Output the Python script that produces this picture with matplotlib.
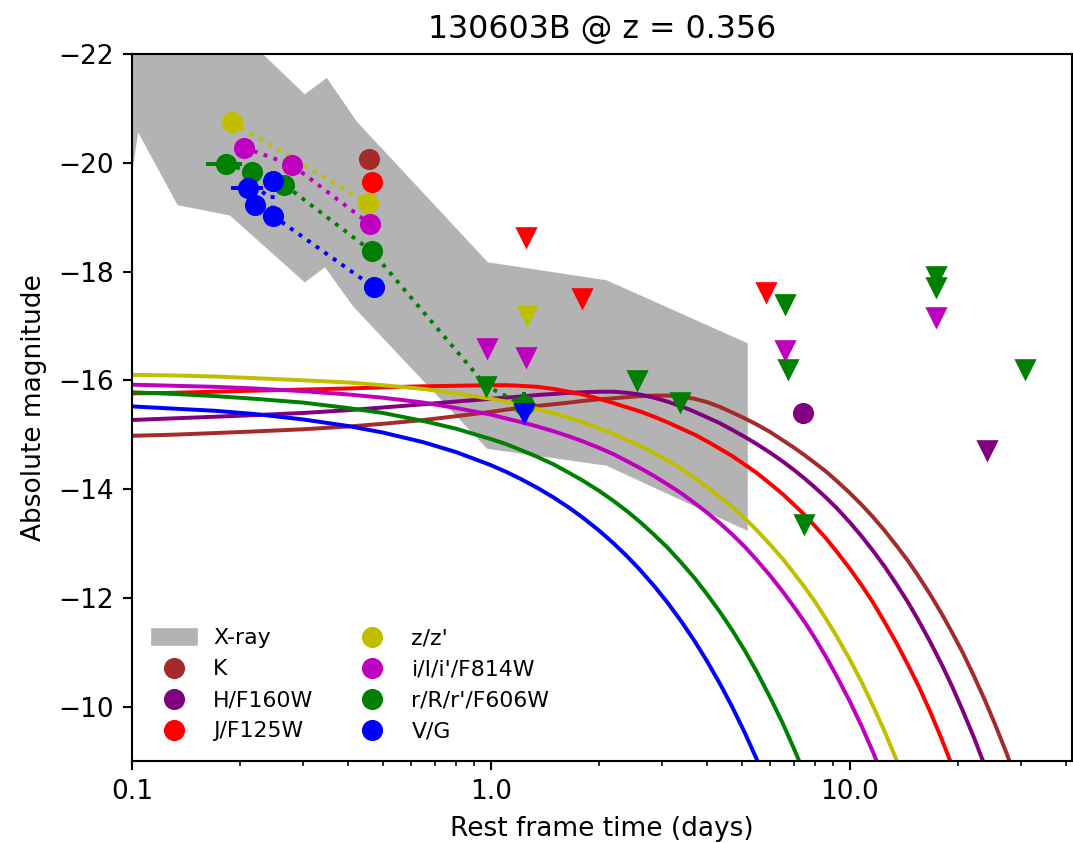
import numpy as np
import matplotlib
matplotlib.use("Agg")
import matplotlib.pyplot as plt
from matplotlib.lines import Line2D
from matplotlib.patches import Patch
from matplotlib.ticker import NullFormatter

# X-ray envelope (rest frame days, abs mag), upper edge then lower edge
xray_t = [0.09, 0.2, 0.303, 0.349, 0.424, 0.981, 2.10, 5.20,
          5.20, 2.10, 0.977, 0.413, 0.345, 0.303, 0.1875, 0.134, 0.104, 0.0975]
xray_mag = [-23.0, -22.4, -21.26, -21.56, -20.75, -18.17, -17.84, -16.68,
            -13.23, -14.43, -14.74, -17.36, -18.08, -17.80, -19.03, -19.22, -20.56, -19.27]

# model light curves on a common time grid (each band stops once it leaves the plot)
model_t = [0.1, 0.13, 0.17, 0.22, 0.3, 0.4, 0.5, 0.65, 0.8, 1.0,
           1.1, 1.2, 1.35, 1.5, 1.65, 1.8, 2.0, 2.2, 2.4, 2.6,
           2.85, 3.1, 3.4, 3.7, 4.0, 4.35, 4.7, 5.1, 5.5, 6.0,
           6.5, 7.0, 7.5, 8.0, 8.6, 9.2, 10.0, 10.8, 11.6, 12.5,
           13.5, 14.5, 15.5, 16.7, 18.0, 19.3, 20.7, 22.2, 23.8, 25.5,
           27.3, 29.2]
model_K = [-14.98, -15.00, -15.03, -15.06, -15.10, -15.15, -15.20, -15.27, -15.34, -15.42,
           -15.46, -15.49, -15.53, -15.56, -15.59, -15.62, -15.65, -15.67, -15.69, -15.71,
           -15.72, -15.72, -15.70, -15.66, -15.60, -15.51, -15.41, -15.30, -15.19, -15.05,
           -14.90, -14.76, -14.62, -14.48, -14.32, -14.15, -13.93, -13.71, -13.49, -13.24,
           -12.96, -12.69, -12.41, -12.08, -11.72, -11.36, -10.98, -10.56, -10.12, -9.65,
           -9.16, -8.63]
model_H = [-15.27, -15.30, -15.33, -15.36, -15.40, -15.45, -15.50, -15.56, -15.61, -15.66,
           -15.68, -15.70, -15.73, -15.75, -15.77, -15.78, -15.79, -15.79, -15.77, -15.74,
           -15.68, -15.61, -15.52, -15.42, -15.32, -15.21, -15.09, -14.96, -14.83, -14.67,
           -14.51, -14.35, -14.19, -14.03, -13.84, -13.65, -13.39, -13.13, -12.87, -12.58,
           -12.25, -11.93, -11.60, -11.21, -10.79, -10.37, -9.91, -9.43, -8.91]
model_J = [-15.76, -15.77, -15.79, -15.81, -15.83, -15.85, -15.87, -15.89, -15.90, -15.91,
           -15.91, -15.90, -15.88, -15.84, -15.79, -15.74, -15.66, -15.58, -15.50, -15.43,
           -15.33, -15.23, -15.11, -15.00, -14.88, -14.74, -14.61, -14.45, -14.30, -14.10,
           -13.91, -13.71, -13.52, -13.32, -13.09, -12.85, -12.54, -12.23, -11.92, -11.56,
           -11.17, -10.78, -10.40, -9.93, -9.42, -8.91]
model_z = [-16.10, -16.09, -16.07, -16.04, -16.00, -15.96, -15.91, -15.84, -15.76, -15.66,
           -15.61, -15.55, -15.47, -15.39, -15.31, -15.23, -15.12, -15.01, -14.90, -14.80,
           -14.66, -14.53, -14.37, -14.20, -14.04, -13.85, -13.67, -13.46, -13.25, -12.98,
           -12.72, -12.45, -12.19, -11.93, -11.61, -11.29, -10.87, -10.45, -10.02, -9.55,
           -9.02, -8.49]
model_i = [-15.92, -15.90, -15.88, -15.85, -15.80, -15.74, -15.68, -15.59, -15.49, -15.37,
           -15.30, -15.24, -15.15, -15.06, -14.97, -14.88, -14.76, -14.64, -14.51, -14.39,
           -14.24, -14.09, -13.92, -13.74, -13.57, -13.37, -13.17, -12.94, -12.70, -12.41,
           -12.12, -11.83, -11.55, -11.26, -10.91, -10.56, -10.10, -9.64, -9.17, -8.65]
model_r = [-15.78, -15.75, -15.71, -15.66, -15.59, -15.49, -15.40, -15.25, -15.11, -14.92,
           -14.83, -14.73, -14.59, -14.45, -14.30, -14.16, -13.97, -13.78, -13.59, -13.40,
           -13.16, -12.93, -12.64, -12.36, -12.07, -11.74, -11.41, -11.03, -10.65, -10.17,
           -9.70, -9.22, -8.75]
model_V = [-15.52, -15.48, -15.44, -15.38, -15.28, -15.16, -15.04, -14.86, -14.68, -14.44,
           -14.32, -14.20, -14.02, -13.84, -13.66, -13.48, -13.24, -13.00, -12.76, -12.52,
           -12.22, -11.92, -11.56, -11.20, -10.84, -10.42, -10.00, -9.52, -9.04, -8.44]

# detections
K_t, K_mag = [0.457], [-20.07]
H_t, H_mag, H_err = [7.39], [-15.39], [0.2]
J_t, J_mag = [0.466], [-19.64]
z_t, z_mag = [0.190, 0.454], [-20.75, -19.26]
i_t, i_mag = [0.205, 0.279, 0.461], [-20.28, -19.96, -18.87]
r_t = [0.1827, 0.2163, 0.2655, 0.466, 1.235]
r_mag = [-19.97, -19.83, -19.60, -18.37, -15.54]
r_terr_lo = [0.022, 0, 0, 0, 0]
r_terr_hi = [0.020, 0, 0, 0, 0]
r_magerr = [0, 0, 0, 0, 0.25]
V_t = [0.2101, 0.2200, 0.2465, 0.2465, 0.472]
V_mag = [-19.53, -19.22, -19.67, -19.03, -17.71]
V_terr_lo = [0.021, 0, 0, 0.015, 0]
V_terr_hi = [0.022, 0, 0, 0.016, 0]

# upper limits
J_lim_t, J_lim_mag = [1.25, 1.80, 5.83], [-18.63, -17.51, -17.62]
H_lim_t, H_lim_mag = [24.2], [-14.71]
z_lim_t, z_lim_mag = [1.26], [-17.21]
i_lim_t, i_lim_mag = [0.977, 1.25, 6.59, 17.36], [-16.60, -16.42, -16.55, -17.17]
r_lim_t = [0.97, 2.55, 3.36, 6.59, 6.71, 7.44, 17.4, 17.36, 30.7]
r_lim_mag = [-15.90, -16.00, -15.61, -17.41, -16.20, -13.36, -17.91, -17.71, -16.20]
V_lim_t, V_lim_mag = [1.235], [-15.40]

# dotted tracks joining the early photometry (r track runs through its first limit)
z_track = (z_t, z_mag)
i_track = (i_t, i_mag)
r_track = ([0.1827, 0.2163, 0.2655, 0.466, 0.97, 1.235],
           [-19.97, -19.83, -19.60, -18.37, -15.90, -15.54])
V_track = (V_t, V_mag)

bands = [
    ("K", "brown", model_K),
    ("H/F160W", "purple", model_H),
    ("J/F125W", "r", model_J),
    ("z/z'", "y", model_z),
    ("i/I/i'/F814W", "m", model_i),
    ("r/R/r'/F606W", "g", model_r),
    ("V/G", "b", model_V),
]

DPI = 190
fig = plt.figure(figsize=(1073 / DPI, 843 / DPI), dpi=DPI)
ax = fig.add_axes([132 / 1073, 82 / 843, 939.5 / 1073, 707 / 843])

ax.fill(xray_t, xray_mag, color="0.7", lw=0, zorder=1)

for name, col, mags in bands:
    ax.plot(model_t[:len(mags)], mags, color=col, lw=1.5, zorder=2)

ms = 7
for (tt, mm), col in [(z_track, "y"), (i_track, "m"), (r_track, "g"), (V_track, "b")]:
    ax.plot(tt, mm, ls=":", color=col, lw=1.5, zorder=3)

ax.plot(K_t, K_mag, "o", color="brown", ms=ms, zorder=4)
ax.errorbar(H_t, H_mag, yerr=H_err, fmt="o", color="purple", ms=ms, zorder=4)
ax.plot(J_t, J_mag, "o", color="r", ms=ms, zorder=4)
ax.plot(z_t, z_mag, "o", color="y", ms=ms, zorder=4)
ax.plot(i_t, i_mag, "o", color="m", ms=ms, zorder=4)
ax.errorbar(r_t, r_mag, xerr=[r_terr_lo, r_terr_hi], yerr=r_magerr,
            fmt="o", color="g", ms=ms, zorder=4)
ax.errorbar(V_t, V_mag, xerr=[V_terr_lo, V_terr_hi], fmt="o", color="b", ms=ms, zorder=4)

for tt, mm, col in [(J_lim_t, J_lim_mag, "r"), (H_lim_t, H_lim_mag, "purple"),
                    (z_lim_t, z_lim_mag, "y"), (i_lim_t, i_lim_mag, "m"),
                    (r_lim_t, r_lim_mag, "g"), (V_lim_t, V_lim_mag, "b")]:
    ax.plot(tt, mm, "v", color=col, ms=ms, zorder=5)

ax.set_xscale("log")
ax.set_xlim(0.1, 41.5)
ax.set_ylim(-9, -22)
ax.set_xticks([0.1, 1.0, 10.0])
ax.set_xticklabels(["0.1", "1.0", "10.0"])
ax.xaxis.set_minor_formatter(NullFormatter())
ax.set_yticks([-22, -20, -18, -16, -14, -12, -10])
ax.set_xlabel("Rest frame time (days)")
ax.set_ylabel("Absolute magnitude")
ax.set_title("130603B @ z = 0.356")

handles = [Patch(color="0.7", label="X-ray")]
for name, col, _ in bands:
    handles.append(Line2D([], [], ls="", marker="o", color=col, ms=ms, label=name))
ax.legend(handles=handles, loc="lower left", ncol=2, frameon=False,
          fontsize="small", columnspacing=1.65)

fig.savefig("out.png", dpi=DPI)
